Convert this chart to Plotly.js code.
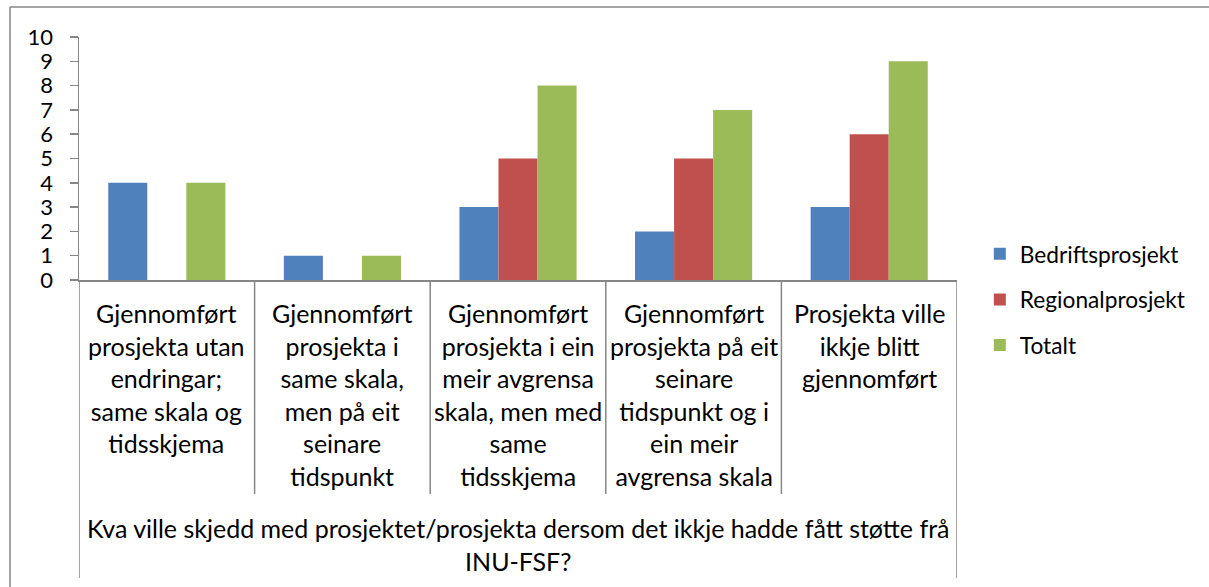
<!DOCTYPE html>
<html>
<head>
<meta charset="utf-8">
<script src="https://cdn.plot.ly/plotly-3.0.1.min.js"></script>
<style>html,body{margin:0;padding:0;background:#fff;}#chart{width:1209px;height:587px;}</style>
</head>
<body>
<div id="chart"></div>
<script>
var categories = [
  "Gjennomført<br>prosjekta utan<br>endringar;<br>same skala og<br>tidsskjema",
  "Gjennomført<br>prosjekta i<br>same skala,<br>men på eit<br>seinare<br>tidspunkt",
  "Gjennomført<br>prosjekta i ein<br>meir avgrensa<br>skala, men med<br>same<br>tidsskjema",
  "Gjennomført<br>prosjekta på eit<br>seinare<br>tidspunkt og i<br>ein meir<br>avgrensa skala",
  "Prosjekta ville<br>ikkje blitt<br>gjennomført"
];
var groupTitle = "Kva ville skjedd med prosjektet/prosjekta dersom det ikkje hadde fått støtte frå<br>INU-FSF?";
var seriesNames = ["Bedriftsprosjekt", "Regionalprosjekt", "Totalt"];
var bedrifts = [4, 1, 3, 2, 3];
var regional = [0, 0, 5, 5, 6];
var totalt = [4, 1, 8, 7, 9];
var yTicks = [0,1,2,3,4,5,6,7,8,9,10];

var colors = ["#4F81BD", "#C0504D", "#9BBB59"];
var FONT = "Lato, 'Open Sans', sans-serif";
var xIdx = categories.map(function(c, i){ return i; });
var seriesVals = [bedrifts, regional, totalt];

var traces = seriesVals.map(function(v, k){
  return {
    type: "bar", x: xIdx, y: v, name: seriesNames[k],
    legendgroup: "g" + k,
    marker: {color: colors[k], line: {width: 0}},
    hoverinfo: "y+name"
  };
});

var GRAY = "#868686";
var shapes = [];
// category dividers
for (var b = 0; b <= categories.length; b++) {
  var outer = (b === 0 || b === categories.length);
  shapes.push({type: "line", xref: "x", yref: "paper", x0: b - 0.5, x1: b - 0.5,
    y0: 0, y1: outer ? -1.226 : -0.881, line: {color: GRAY, width: 1.5}});
}
// chart frame (top and left edges)
shapes.push({type: "line", xref: "paper", yref: "paper", x0: -0.0786, x1: 1.29, y0: 1.1235, y1: 1.1235, line: {color: GRAY, width: 1.5}});
shapes.push({type: "line", xref: "paper", yref: "paper", x0: -0.0786, x1: -0.0786, y0: 1.1235, y1: -1.27, line: {color: GRAY, width: 1.5}});

var annotations = categories.map(function(c, i){
  return {xref: "x", yref: "paper", x: i, y: -0.066, yanchor: "top", xanchor: "center",
    text: c, showarrow: false, align: "center",
    font: {family: FONT, size: 25, color: "#000"}};
});
annotations.push({xref: "paper", yref: "paper", x: 0.5, y: -0.95, yanchor: "top", xanchor: "center",
  text: groupTitle, showarrow: false, align: "center",
  font: {family: FONT, size: 25, color: "#000"}});

var layout = {
  width: 1209, height: 587,
  margin: {l: 79, r: 252, t: 37, b: 307, pad: 0},
  paper_bgcolor: "#fff", plot_bgcolor: "#fff",
  barmode: "group", bargap: 0.333, bargroupgap: 0,
  showlegend: true,
  legend: {x: 1.026, xanchor: "left", y: 0.195, yanchor: "top", traceorder: "grouped",
    tracegroupgap: 13, font: {family: FONT, size: 22.7, color: "#000"}, bgcolor: "rgba(0,0,0,0)"},
  xaxis: {type: "linear", range: [-0.5, categories.length - 0.5], showticklabels: false,
    showgrid: false, zeroline: false, showline: true, linecolor: GRAY, linewidth: 1.5, ticks: ""},
  yaxis: {range: [0, 10], tickvals: yTicks, ticktext: yTicks.map(String), showgrid: false, zeroline: false,
    showline: true, linecolor: GRAY, linewidth: 1.5, ticks: "outside", ticklen: 8, tickcolor: GRAY, tickwidth: 1.5,
    ticklabelstandoff: 12,
    tickfont: {family: FONT, size: 22, color: "#000"}},
  shapes: shapes,
  annotations: annotations
};

Plotly.newPlot("chart", traces, layout, {displayModeBar: false, staticPlot: true});
</script>
</body>
</html>
